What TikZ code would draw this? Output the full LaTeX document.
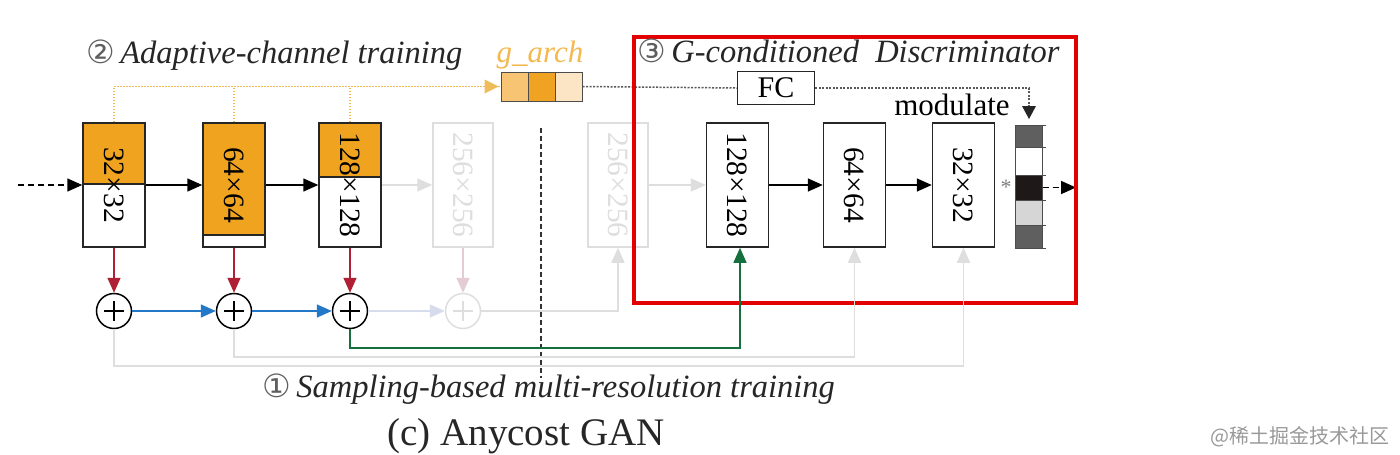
\documentclass[tikz,border=0pt]{standalone}
\usepackage{fontspec}
\setmainfont{Liberation Serif}
\newfontfamily\symf{DejaVu Sans}
\newfontfamily\cjkf{Noto Sans CJK SC}
\usetikzlibrary{arrows.meta,calc}
\definecolor{org}{RGB}{240,163,30}
\definecolor{orgtxt}{RGB}{243,185,80}
\definecolor{orgdot}{RGB}{240,188,90}
\definecolor{cellA}{RGB}{246,196,115}
\definecolor{cellB}{RGB}{240,163,35}
\definecolor{cellC}{RGB}{251,229,196}
\definecolor{rarr}{RGB}{176,32,52}
\definecolor{barr}{RGB}{35,120,200}
\definecolor{garr}{RGB}{22,112,62}
\definecolor{lgray}{RGB}{222,222,222}
\definecolor{lpink}{RGB}{228,205,210}
\definecolor{lblue}{RGB}{215,220,236}
\definecolor{redbox}{RGB}{226,0,0}
\definecolor{circg}{RGB}{95,95,95}
\definecolor{darkcell}{RGB}{95,95,95}
\definecolor{blackcell}{RGB}{30,24,24}
\definecolor{lightcell}{RGB}{214,214,214}
\begin{document}
\begin{tikzpicture}[x=1pt,y=-1pt,
  blk/.style={draw=black!85, line width=1.5pt, minimum width=62pt, minimum height=124pt, inner sep=0pt},
  gblk/.style={blk, draw=lgray},
  lbl/.style={rotate=-90, font=\fontsize{29.5}{30}\selectfont, inner sep=0pt},
  glbl/.style={lbl, text=lgray},
  tip/.style={-{Triangle[length=15pt,width=13pt]}},
  arr/.style={line width=1.6pt, tip},
  odot/.style={orgdot, line width=1.6pt, dash pattern=on 1.5pt off 1.5pt},
  kdot/.style={black!65, line width=1.5pt, dash pattern=on 2pt off 1.5pt},
  sumnode/.style={circle, draw, line width=1.5pt, minimum size=35pt, inner sep=0pt,
    path picture={\draw[line width=1.5pt] ($(path picture bounding box.center)+(-10,0)$) -- ++(20,0)
      ($(path picture bounding box.center)+(0,-10)$) -- ++(0,20);}},
  cell/.style={draw=black!70, line width=1pt, minimum width=27pt, inner sep=0pt},
  ttl/.style={font=\fontsize{32.5}{36}\selectfont\itshape, inner sep=0pt, text=black!85},
  cnum/.style={}
]
\useasboundingbox (0,0) rectangle (1400,455);
\fill[white] (0,0) rectangle (1400,455);

% orange fills of generator blocks
\fill[org] (83,123) rectangle (145,184);
\fill[org] (203,123) rectangle (265,235);
\fill[org] (319,123) rectangle (381,177);
\draw[black!85, line width=1.5pt] (203,235) -- (265,235);
\draw[black!85, line width=1.5pt] (319,177) -- (381,177);
\draw[black!85, line width=1.5pt] (83,184) -- (145,184);

% generator blocks
\node[blk] (b1) at (114,185) {};
\node[blk] (b2) at (234,185) {};
\node[blk] (b3) at (350,185) {};
\node[gblk, minimum width=60pt] (b4) at (463,185) {};
\node[lbl] (b1l) at (b1) {32×32};
\node[lbl] (b2l) at (b2) {64×64};
\node[lbl] (b3l) at (b3) {128×128};
\node[glbl] (b4l) at (b4) {256×256};

% discriminator input and blocks
\node[gblk, minimum width=60pt] (b5) at (618,185) {};
\node[glbl] (b5l) at (b5) {256×256};
\node[blk] (d1) at (737.5,185) {};
\node[blk] (d2) at (854.5,185) {};
\node[blk] (d3) at (963.5,185) {};
\node[lbl] (d1l) at (d1) {128×128};
\node[lbl] (d2l) at (d2) {64×64};
\node[lbl] (d3l) at (d3) {32×32};

% main flow arrows
\coordinate (in) at (18,185);
\draw[arr, dash pattern=on 6pt off 4pt] (in) -- (b1.west);
\draw[arr] (b1.east) -- (b2.west);
\draw[arr] (b2.east) -- (b3.west);
\draw[arr, lgray] (b3.east) -- (b4.west);
\draw[arr, lgray] (b5.east) -- (d1.west);
\draw[arr] (d1.east) -- (d2.west);
\draw[arr] (d2.east) -- (d3.west);

% g_arch cells
\node[cell, fill=cellA, minimum height=29pt] (ga1) at (514.5,86.5) {};
\node[cell, fill=cellB, minimum height=29pt] (ga2) at (541.5,86.5) {};
\node[cell, fill=cellC, minimum height=29pt] (ga3) at (568.5,86.5) {};
\node[font=\fontsize{31}{32}\selectfont\itshape, text=orgtxt, anchor=base, inner sep=0pt] (gat) at (540,62) {g\_arch};

% orange dotted channel lines
\draw[odot] (b1.north) |- (ga1.west);
\draw[odot] (b2.north) -- (b2.north |- ga1.west);
\draw[odot] (b3.north) -- (b3.north |- ga1.west);
\fill[orgdot] (ga1.west) ++(-2,0) -- ++(-14,-7) -- ++(0,14) -- cycle;

% FC and modulation
\node[draw=black!85, line width=1.5pt, minimum width=77pt, minimum height=33pt, inner sep=0pt,
      font=\fontsize{30}{32}\selectfont] (fc) at (776,88) {FC};
\draw[kdot] (ga3.east) -- (fc.west);

% modulation bar
\node[cell, fill=darkcell, minimum height=22pt] (m1) at (1028.5,136) {};
\node[cell, fill=white, minimum height=28pt] (m2) at (1028.5,161) {};
\node[cell, fill=blackcell, minimum height=25pt] (m3) at (1028.5,187.5) {};
\node[cell, fill=lightcell, minimum height=25pt] (m4) at (1028.5,212.5) {};
\node[cell, fill=darkcell, minimum height=23pt] (m5) at (1028.5,236.5) {};
\foreach \yy in {125,147,175,200,225,248} \draw[black!70, line width=1pt] (1042,\yy) -- (1046,\yy);
\coordinate (mt) at (1029,119);
\draw[kdot] (fc.east) -| (1029,106);
\fill[black!85] (mt) -- ++(-7,-13) -- ++(14,0) -- cycle;
\node[font=\fontsize{31}{32}\selectfont, anchor=base, inner sep=0pt] (modt) at (952,115) {modulate};
\node[text=black!50, font=\fontsize{22}{22}\selectfont, inner sep=0pt] (ast) at (1006,187) {*};
\coordinate (out) at (1076,187.5);
\draw[arr, dash pattern=on 6pt off 4pt] (m3.east) -- (out);

% red highlight box
\draw[redbox, line width=3.3pt] (634,37) rectangle (1076,303);

% divider
\draw[black!80, line width=1.3pt, dash pattern=on 5pt off 3pt] (541,128) -- (541,378);

% sum nodes
\node[sumnode] (c1) at (114,311) {};
\node[sumnode] (c2) at (234,311) {};
\node[sumnode] (c3) at (350,311) {};
\node[sumnode, draw=lgray, path picture={\draw[lgray, line width=1.5pt] ($(path picture bounding box.center)+(-10,0)$) -- ++(20,0)
      ($(path picture bounding box.center)+(0,-10)$) -- ++(0,20);}] (c4) at (463,311) {};

\draw[arr, rarr] (b1.south) -- (c1.north);
\draw[arr, rarr] (b2.south) -- (c2.north);
\draw[arr, rarr] (b3.south) -- (c3.north);
\draw[arr, lpink] (b4.south) -- (c4.north);
\draw[arr, barr] (c1.east) -- (c2.west);
\draw[arr, barr] (c2.east) -- (c3.west);
\draw[arr, lblue] (c3.east) -- (c4.west);
\draw[arr, lgray] (c4.east) -| (b5.south);

\draw[arr, garr] (c3.south) |- (740,348) -- (740,247.8);
\draw[arr, lgray] (c2.south) |- (d2.south |- 0,357) -- (d2.south);
\draw[arr, lgray] (c1.south) |- (d3.south |- 0,366) -- (d3.south);

% titles
\node[ttl, anchor=base west] (t2) at (86,63) {{\symf\upshape\fontsize{32}{32}\selectfont\color{circg}②}\,Adaptive-channel training};
\node[ttl, anchor=base west] (t3) at (637,62) {{\symf\upshape\fontsize{32}{32}\selectfont\color{circg}③}\,G-conditioned\ \ Discriminator};
\node[ttl, anchor=base west] (t1) at (262,397) {{\symf\upshape\fontsize{32}{32}\selectfont\color{circg}①}\,Sampling-based multi-resolution training};
\node[font=\fontsize{39}{40}\selectfont, anchor=base, inner sep=0pt, text=black!85] (cap) at (526,445) {(c) Anycost GAN};
\node[font=\cjkf\fontsize{20}{22}\selectfont, text=black!40, anchor=east, inner sep=0pt] (wm) at (1390,437) {@稀土掘金技术社区};
\end{tikzpicture}
\end{document}
